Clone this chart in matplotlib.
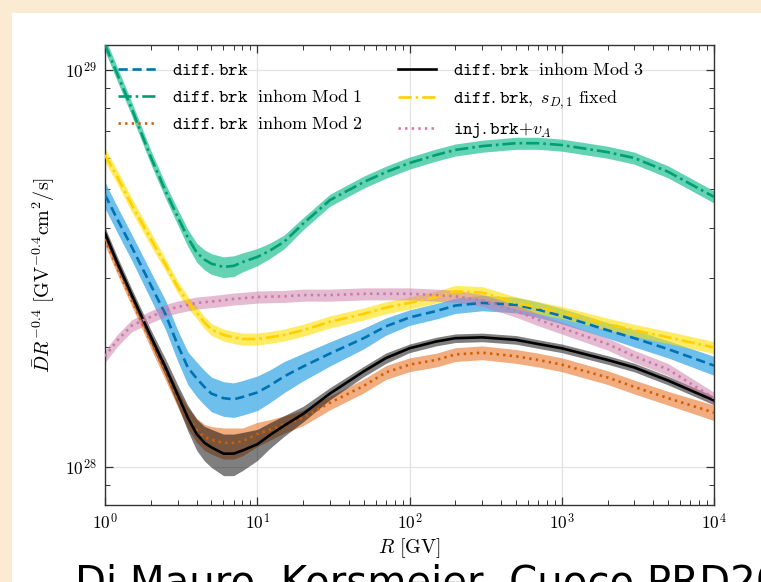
import numpy as np
import matplotlib
matplotlib.use('Agg')
import matplotlib.pyplot as plt
import matplotlib.ticker as ticker
from matplotlib.patches import Rectangle

plt.rcParams['mathtext.fontset'] = 'cm'
plt.rcParams['font.family'] = 'serif'
plt.rcParams['font.serif'] = ['DejaVu Serif']

# rigidity grid [GV]
R = [1, 1.2, 1.5, 2, 2.5, 3, 3.5, 4, 4.5, 5, 6, 7, 8, 10, 12, 15, 20, 30, 50, 70,
     100, 150, 200, 300, 500, 700, 1000, 2000, 3000, 5000, 10000]

# D R^-0.4 in units of 1e28 GV^-0.4 cm^2/s
diff_brk = [4.85, 4.22, 3.58, 2.87, 2.42, 2.03, 1.78, 1.67, 1.59, 1.53, 1.49, 1.48, 1.50,
            1.54, 1.60, 1.69, 1.79, 1.93, 2.11, 2.26, 2.38, 2.47, 2.55, 2.59, 2.56, 2.49,
            2.40, 2.21, 2.11, 1.98, 1.80]
mod1 = [11.6, 9.8, 7.98, 6.03, 4.95, 4.27, 3.78, 3.47, 3.33, 3.25, 3.19, 3.21, 3.28,
        3.38, 3.50, 3.69, 4.10, 4.70, 5.22, 5.53, 5.83, 6.11, 6.29, 6.43, 6.54, 6.54,
        6.47, 6.21, 6.00, 5.54, 4.79]
mod2 = [3.75, 3.18, 2.63, 2.07, 1.73, 1.49, 1.33, 1.24, 1.19, 1.17, 1.15, 1.15, 1.16,
        1.21, 1.24, 1.28, 1.33, 1.45, 1.60, 1.73, 1.81, 1.86, 1.92, 1.94, 1.90, 1.86,
        1.81, 1.68, 1.59, 1.49, 1.37]
mod3 = [3.88, 3.28, 2.71, 2.13, 1.78, 1.52, 1.33, 1.21, 1.15, 1.12, 1.08, 1.08, 1.10,
        1.14, 1.20, 1.27, 1.36, 1.53, 1.74, 1.88, 1.99, 2.07, 2.11, 2.12, 2.09, 2.04,
        1.99, 1.86, 1.78, 1.65, 1.47]
sd1_fixed = [6.11, 5.39, 4.57, 3.75, 3.23, 2.84, 2.60, 2.45, 2.31, 2.22, 2.15, 2.12, 2.10,
             2.10, 2.12, 2.15, 2.21, 2.32, 2.43, 2.52, 2.59, 2.68, 2.77, 2.75, 2.59, 2.52,
             2.45, 2.29, 2.21, 2.12, 2.00]
inj_va = [1.90, 2.08, 2.27, 2.39, 2.48, 2.53, 2.56, 2.59, 2.60, 2.61, 2.63, 2.65, 2.66,
          2.68, 2.685, 2.69, 2.71, 2.71, 2.73, 2.73, 2.73, 2.71, 2.69, 2.63, 2.47, 2.35,
          2.24, 2.04, 1.90, 1.76, 1.49]

# half width of the uncertainty bands, percent
diff_brk_w = [7.5, 7.5, 7.5, 8, 8.5, 9, 9.5, 10, 10, 10, 10, 10, 10, 10, 9.5, 9, 8, 7, 6, 5,
              4.5, 4.5, 4.5, 4.5, 4.5, 4.5, 4.5, 4.5, 5, 5, 5.5]
mod1_w = [4, 4, 4, 4, 4.2, 4.5, 5, 5.5, 5.8, 6, 6, 6, 5.5, 5, 4.5, 4, 3.5] + [3.5] * 14
mod2_w = [3.5, 3.5, 3.5, 4, 4.5, 5, 6, 7, 7.5, 8, 9, 9, 8, 7, 6, 5, 4.5, 4] + [4] * 12 + [4.5]
mod3_w = [3.5, 3.5, 3.5, 4, 5, 6, 7.5, 9, 10, 11, 12, 12, 11, 9, 7.5, 6, 4.5, 3.5, 3, 3] + [2.5] * 11
sd1_w = [4] * 4 + [3.5] * 27
inj_w = [3.5] * 31

labels = [r'$\mathtt{diff.brk}$',
          r'$\mathtt{diff.brk}\ \ \mathrm{inhom\ Mod\ 1}$',
          r'$\mathtt{diff.brk}\ \ \mathrm{inhom\ Mod\ 2}$',
          r'$\mathtt{diff.brk}\ \ \mathrm{inhom\ Mod\ 3}$',
          r'$\mathtt{diff.brk},\ s_{D,1}\ \mathrm{fixed}$',
          r'$\mathtt{inj.brk}{+}v_A$']

fig = plt.figure(figsize=(7.61, 5.82), dpi=100)
fig.patch.set_facecolor('#FAEBD2')
fig.add_artist(Rectangle((12/761, 0), 1, 1 - 13/582, transform=fig.transFigure,
                         facecolor='white', edgecolor='none', zorder=0))

ax = fig.add_axes([105/761, 77/582, 609/761, 460/582])
x = np.array(R)

series = [
    (diff_brk, diff_brk_w, '#0072B2', '#56B4E9', 0.85, (0, (3.5, 1.8))),
    (mod1, mod1_w, '#009E73', '#3CC9A0', 0.8, (0, (5, 1.5, 1, 1.5))),
    (mod2, mod2_w, '#D55E00', '#E8752A', 0.6, (0, (0.9, 1.6))),
    (mod3, mod3_w, 'black', 'black', 0.5, '-'),
    (sd1_fixed, sd1_w, '#FFD000', '#FFE000', 0.6, (0, (5, 1.5, 1, 1.5))),
    (inj_va, inj_w, '#CC79A7', '#CC79A7', 0.5, (0, (0.9, 1.6))),
]

for (vals, w, lc, bc, a, ls), lab in zip(series, labels):
    y = np.array(vals) * 1e28
    f = np.array(w) / 100.0
    ax.fill_between(x, y * (1 - f), y * (1 + f), color=bc, alpha=a, lw=0, zorder=2)
    ax.plot(x, y, color=lc, ls=ls, lw=1.9, label=lab, zorder=3)

ax.set_xscale('log')
ax.set_yscale('log')
ax.set_xlim(1, 1e4)
ax.set_ylim(10**27.904, 10**29.063)

fmt = ticker.FuncFormatter(lambda v, p: r'$10^{%d}$' % round(np.log10(v)))
ax.xaxis.set_major_locator(ticker.FixedLocator([1, 10, 100, 1000, 10000]))
ax.xaxis.set_major_formatter(fmt)
ax.yaxis.set_major_locator(ticker.FixedLocator([1e28, 1e29]))
ax.yaxis.set_major_formatter(fmt)
ax.xaxis.set_minor_locator(ticker.LogLocator(base=10, subs=np.arange(2, 10), numticks=20))
ax.yaxis.set_minor_locator(ticker.LogLocator(base=10, subs=np.arange(2, 10), numticks=20))
ax.xaxis.set_minor_formatter(ticker.NullFormatter())
ax.yaxis.set_minor_formatter(ticker.NullFormatter())

ax.tick_params(which='both', direction='in', top=True, right=True, color='#333333')
ax.tick_params(which='major', length=6, width=0.9, labelsize=12.5, pad=6)
ax.tick_params(which='minor', length=3.5, width=0.7)
for s in ax.spines.values():
    s.set_color('#333333')
    s.set_linewidth(1.0)

ax.grid(True, which='major', color='#e3e3e3', lw=0.9, zorder=0)

ax.set_xlabel(r'$R\ [\mathrm{GV}]$', fontsize=14.5, labelpad=2)
ax.set_ylabel(r'$\bar{D}R^{-0.4}\ [\mathrm{GV}^{-0.4}\mathrm{cm}^2/\mathrm{s}]$', fontsize=14.5, labelpad=6)

ax.legend(loc='upper left', ncol=2, frameon=False, fontsize=13,
          handlelength=2.1, handletextpad=0.9, columnspacing=2.0, labelspacing=0.5,
          borderaxespad=0.3, bbox_to_anchor=(0.0, 0.992))

fig.text(75/761, 1 - 564/582, 'Di Mauro, Korsmeier, Cuoco PRD2021', fontsize=29,
         family='DejaVu Sans', va='top', ha='left', color='black')

fig.savefig('out.png', dpi=100, facecolor=fig.get_facecolor())
